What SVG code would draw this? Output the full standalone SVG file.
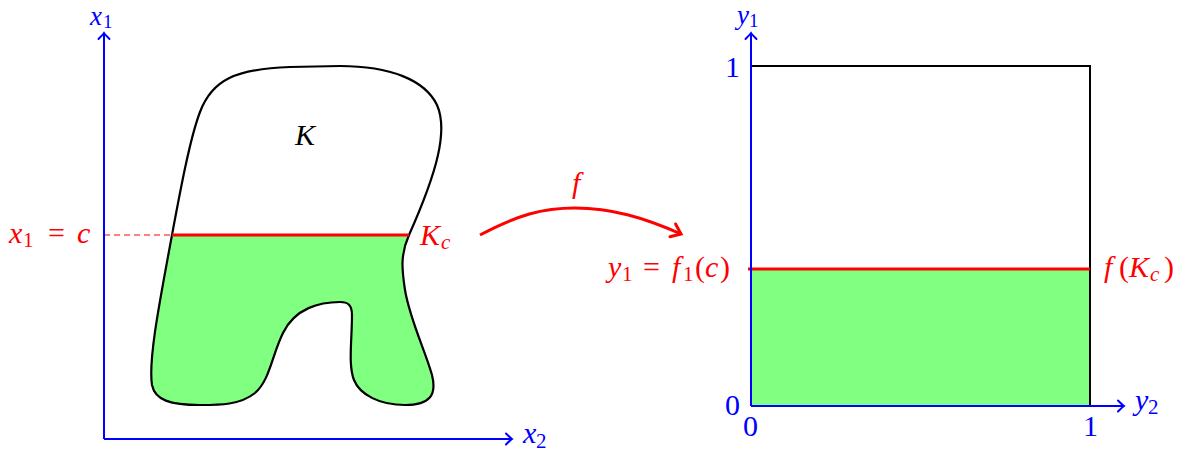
<svg xmlns="http://www.w3.org/2000/svg" width="1187" height="454" viewBox="0 0 1187 454">
<style>
  text { font-family: "Liberation Serif", "Times New Roman", serif; font-size: 30px; }
  .m { font-style: italic; }
  .n { font-style: normal; }
  .s { font-style: normal; font-size: 21px; }
  .si { font-style: italic; font-size: 21px; }
  .top { font-size: 27px; }
  .tops { font-size: 19px; font-style: normal; }
  .blue { fill: #0000ff; }
  .red { fill: #ff0000; }
  .blk { fill: #000000; }
  .axis { stroke: #0000ff; stroke-width: 2; fill: none; }
  .outline { stroke: #000000; stroke-width: 2.2; fill: none; }
  .green { fill: #80ff80; stroke: none; }
  .redline { stroke: #ff0000; stroke-width: 3; fill: none; }
</style>
<defs>
  <marker id="ab" markerUnits="userSpaceOnUse" markerWidth="16" markerHeight="16" refX="0" refY="0" viewBox="-10 -8 12 16" orient="auto" overflow="visible">
    <path d="M-6,-5.5 Q-1.5,-1 0,0 Q-1.5,1 -6,5.5" fill="none" stroke="#0000ff" stroke-width="2" stroke-linecap="round"/>
  </marker>
  <marker id="ar" markerUnits="userSpaceOnUse" markerWidth="20" markerHeight="20" refX="0" refY="0" viewBox="-12 -10 14 20" orient="auto" overflow="visible">
    <path d="M-9,-7 Q-2,-1.5 0,0 Q-2,1.5 -9,7" fill="none" stroke="#ff0000" stroke-width="3" stroke-linecap="round"/>
  </marker>
</defs>

<g id="left-region">
  <path class="green" d="M172,235 L409,235 C400,255 402,270 405,290 C410,320 425,350 432,375 C437,395 430,405 405,405 C380,405 360,395 354,380 C348,365 352,340 352,315 C352,305 348,302 340,302 C320,302 295,308 283,333 C272,355 270,380 255,393 C240,405 220,405 200,405 C170,405 155,400 152,385 C148,360 160,300 172,235 Z"/>
  <path class="outline" d="M172,235 C180,192 190,138 200,112 C212,80 235,69 290,67 L340,66 C390,66 425,80 437,105 C448,130 438,170 409,235 C400,255 402,270 405,290 C410,320 425,350 432,375 C437,395 430,405 405,405 C380,405 360,395 354,380 C348,365 352,340 352,315 C352,305 348,302 340,302 C320,302 295,308 283,333 C272,355 270,380 255,393 C240,405 220,405 200,405 C170,405 155,400 152,385 C148,360 160,300 172,235 Z"/>
  <line class="redline" x1="172" y1="235" x2="409" y2="235"/>
  <text class="m blk" x="295" y="145">K</text>
</g>

<g id="left-axes">
  <line x1="104" y1="235" x2="172" y2="235" stroke="#ff0000" stroke-width="1" stroke-dasharray="6,4"/>
  <path class="axis" d="M104,439 L104,33" marker-end="url(#ab)"/>
  <path class="axis" d="M104,439 L512,439" marker-end="url(#ab)"/>
  <text class="blue top"><tspan class="m" x="90" y="25">x</tspan><tspan class="tops" x="103" y="28">1</tspan></text>
  <text class="blue"><tspan class="m" x="523" y="443">x</tspan><tspan class="s" x="536" y="448">2</tspan></text>
  <text class="red"><tspan class="m" x="9" y="243">x</tspan><tspan class="s" x="23" y="247">1</tspan><tspan class="n" x="48" y="243">=</tspan><tspan class="m" x="77" y="243">c</tspan></text>
  <text class="red"><tspan class="m" x="420" y="245">K</tspan><tspan class="si" x="441" y="249">c</tspan></text>
</g>

<g id="connectors">
  <path class="redline" d="M480,235 C518,215 542,208 575,208 C612,208 645,218 681,234" marker-end="url(#ar)"/>
  <text class="m red" x="572" y="193">f</text>
</g>

<g id="right-region">
  <rect class="green" x="751" y="269" width="339" height="137"/>
  <path d="M751,66 L1090,66 L1090,406" fill="none" stroke="#000000" stroke-width="2"/>
  <line class="redline" x1="748" y1="269" x2="1090" y2="269"/>
</g>

<g id="right-axes">
  <path class="axis" d="M751,406 L751,33" marker-end="url(#ab)"/>
  <path class="axis" d="M751,406 L1124,406" marker-end="url(#ab)"/>
  <text class="blue top"><tspan class="m" x="737" y="24">y</tspan><tspan class="tops" x="749" y="27">1</tspan></text>
  <text class="blue"><tspan class="m" x="1135" y="410">y</tspan><tspan class="s" x="1148" y="414">2</tspan></text>
  <text class="blue" x="725" y="77">1</text>
  <text class="blue" x="725" y="415">0</text>
  <text class="blue" x="743" y="436">0</text>
  <text class="blue" x="1083" y="436">1</text>
  <text class="red"><tspan class="m" x="608" y="277">y</tspan><tspan class="s" x="622" y="281">1</tspan><tspan class="n" x="643" y="277">=</tspan><tspan class="m" x="672" y="277">f</tspan><tspan class="s" x="683" y="281">1</tspan><tspan class="n" x="695" y="277">(</tspan><tspan class="m" x="705" y="277">c</tspan><tspan class="n" x="720" y="277">)</tspan></text>
  <text class="red"><tspan class="m" x="1104" y="277">f</tspan><tspan class="n" x="1119" y="277">(</tspan><tspan class="m" x="1129" y="277">K</tspan><tspan class="si" x="1150" y="281">c</tspan><tspan class="n" x="1164" y="277">)</tspan></text>
</g>
</svg>
